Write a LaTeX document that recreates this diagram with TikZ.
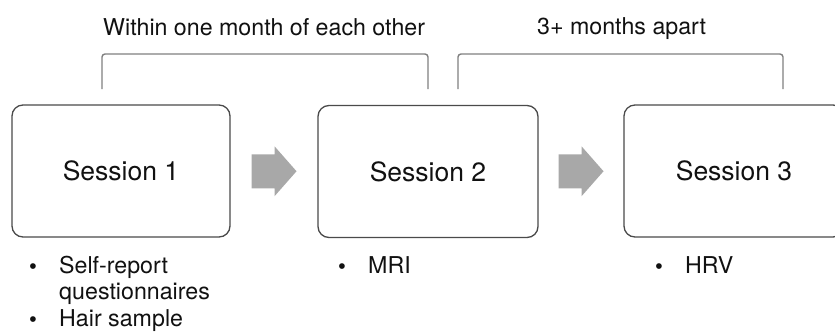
\documentclass[tikz,border=0pt]{standalone}
\usepackage{fontspec}
\setmainfont{TeX Gyre Heros}
\newfontfamily\bulfont{Liberation Sans}
\usetikzlibrary{calc}
\definecolor{txt}{HTML}{111111}
\definecolor{boxcol}{HTML}{4A4A4A}
\definecolor{brk}{HTML}{808080}
\definecolor{arr}{HTML}{A8A8A8}
\begin{document}
\begin{tikzpicture}[x=1pt,y=-1pt,
  sessbox/.style={draw=boxcol, line width=1.3pt, rounded corners=11pt, minimum width=218pt, minimum height=132pt, inner sep=0pt, font=\fontsize{26.5}{30}\selectfont, text=txt},
  lbl/.style={anchor=base west, inner sep=0pt, font=\fontsize{23.2}{27}\selectfont, text=txt},
  bul/.style={anchor=base, inner sep=0pt, font=\bulfont\fontsize{21}{24}\selectfont, text=txt},
  bracket/.style={draw=brk, line width=1.4pt, rounded corners=3pt},
  blockarrow/.style={fill=arr, draw=none}]
\useasboundingbox (0,0) rectangle (835,333);
\clip (0,0) rectangle (835,333);
\fill[white] (0,0) rectangle (835,333);
% session boxes
\node[sessbox] (s1) at (121,171) {Session 1};
\node[sessbox, minimum width=220pt] (s2) at (428,171.5) {Session 2};
\node[sessbox, minimum width=220pt] (s3) at (734,171) {Session 3};
% block arrows
\coordinate (a1) at ($(s1.east)!0.5!(s2.west)$);
\coordinate (a2) at ($(s2.east)!0.5!(s3.west)$);
\foreach \a in {a1,a2}{
  \fill[blockarrow] ($(\a)+(-22.5,-17)$) -- ++(23,0) -- ++(0,-8) -- ++(22,25) -- ++(-22,25) -- ++(0,-8) -- ++(-23,0) -- cycle;
}
% brackets
\coordinate (b1l) at (102,89);
\coordinate (b1r) at (428,89);
\coordinate (b2l) at (458,89);
\coordinate (b2r) at (783,89);
\draw[bracket] (b1l) -- ++(0,-35) -| (b1r);
\draw[bracket] (b2l) -- ++(0,-35) -| (b2r);
% top labels
\node[lbl] (t1) at (103,35) {Within one month of each other};
\node[lbl] (t2) at (537,34) {3+ months apart};
% bullets
\node[bul] (d1) at (33,273) {•};
\node[lbl] (l1) at (59,273) {Self-report};
\node[lbl] (l1b) at (59,299.5) {questionnaires};
\node[bul] (d2) at (33,326) {•};
\node[lbl] (l2) at (59,326) {Hair sample};
\node[bul] (d3) at (342,273) {•};
\node[lbl] (l3) at (368,273) {MRI};
\node[bul] (d4) at (659,273) {•};
\node[lbl] (l4) at (685,273) {HRV};
\end{tikzpicture}
\end{document}
